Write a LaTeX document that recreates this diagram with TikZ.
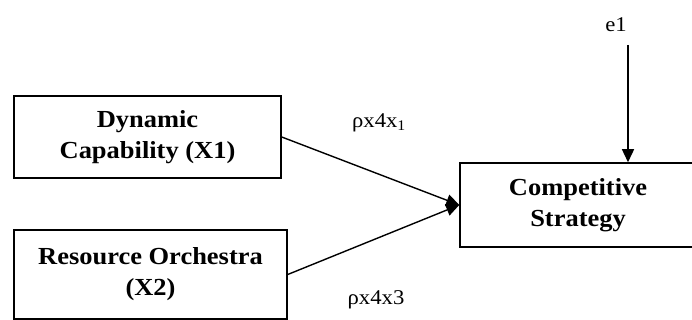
\documentclass[tikz,border=0pt]{standalone}
\usepackage{fontspec}
\setmainfont[FakeStretch=1.08]{Liberation Serif}
\usetikzlibrary{arrows.meta}

\begin{document}
\begin{tikzpicture}[x=1pt, y=1pt,
    construct/.style ={rectangle, draw, line width=1.5pt, align=center,
      inner sep=0pt, font=\fontsize{24.5}{31}\selectfont\bfseries},
    coeff/.style ={inner sep=0pt, font=\fontsize{21}{24}\selectfont},
    link/.style ={line width=1.4pt, -{Triangle[length=13pt,width=12pt]}}]
   \useasboundingbox (0,0) rectangle (692,320);
   \node[construct, minimum width=267pt, minimum height=82pt] (X1) at (147.5,183) {Dynamic\\Capability (X1)};
   \node[construct, minimum width=273pt, minimum height=89pt] (X2) at (150.5,45.5) {Resource Orchestra\\(X2)};
   \node[construct, minimum width=236pt, minimum height=84pt] (CS) at (578,115) {Competitive\\Strategy};
   \node[coeff] (r1) at (379,197) {ρx4x\textsubscript{1}};
   \node[coeff] (r3) at (376,20) {ρx4x3};
   \node[coeff] (e1) at (616,295) {e1};
   \coordinate (etop) at (628,275);
   \draw[link] (X1.east) -- (CS.west);
   \draw[link] (X2.east) -- (CS.west);
   \draw[link] (etop) -- (etop |- CS.north);
 \end{tikzpicture}
\end{document}
